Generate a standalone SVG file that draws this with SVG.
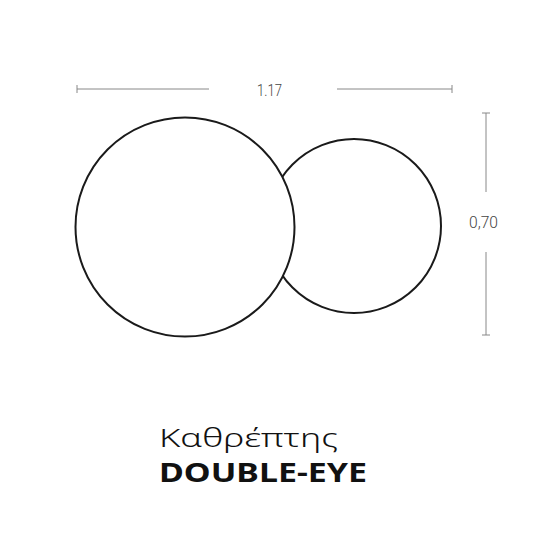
<svg xmlns="http://www.w3.org/2000/svg" width="550" height="550" viewBox="0 0 550 550">
<style>
.dim{stroke:#888;stroke-width:1;fill:none}
.dimt{font-family:"Roboto","Liberation Sans",sans-serif;font-size:17px;font-weight:300;fill:#444}
.c{stroke:#1a1a1a;stroke-width:2;fill:#fff}
</style>
<rect width="550" height="550" fill="#fff"/>
<g id="small-circle"><circle class="c" cx="354" cy="226" r="87"/></g>
<g id="big-circle"><circle class="c" cx="185" cy="227" r="109.5"/></g>
<g id="connectors">
<path class="dim" d="M77 89H209M337 89H452M77 85V93M452 85V93"/>
<path class="dim" d="M486 113V192M486 252V335M482 113H490M482 335H490"/>
</g>
<g id="labels">
<text class="dimt" x="257" y="96" textLength="25" lengthAdjust="spacingAndGlyphs">1.17</text>
<text class="dimt" x="469" y="228" textLength="29" lengthAdjust="spacingAndGlyphs">0,70</text>
<text x="159" y="447" style="font-family:'Noto Sans','Liberation Sans',sans-serif;font-size:26px;font-weight:300;fill:#111" textLength="179" lengthAdjust="spacingAndGlyphs">Καθρέπτης</text>
<text x="159" y="482" style="font-family:'Noto Sans','Liberation Sans',sans-serif;font-size:27px;font-weight:700;fill:#111" textLength="208" lengthAdjust="spacingAndGlyphs">DOUBLE-EYE</text>
</g>
</svg>
